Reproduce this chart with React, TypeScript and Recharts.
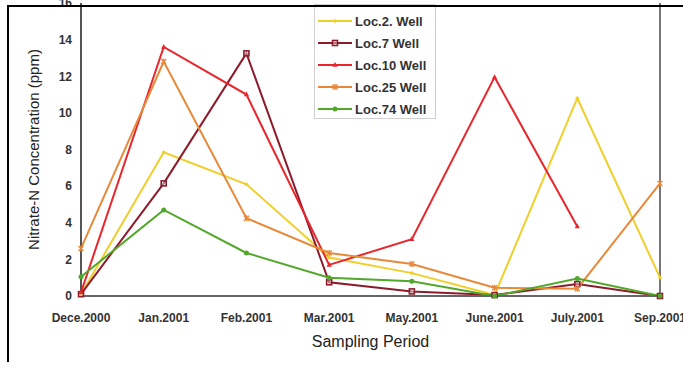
import { LineChart, Line, XAxis, YAxis, ReferenceLine } from "recharts";

const MONTHS = ["Dece.2000", "Jan.2001", "Feb.2001", "Mar.2001", "May.2001", "June.2001", "July.2001", "Sep.2001"];
const LOC2 = [0.1, 7.85, 6.1, 2.1, 1.25, 0.05, 10.8, 1.0];
const LOC7 = [0.1, 6.15, 13.25, 0.75, 0.25, 0.05, 0.65, 0];
const LOC10 = [0.2, 13.6, 11.0, 1.7, 3.1, 11.95, 3.8, null];
const LOC25 = [2.6, 12.8, 4.25, 2.35, 1.75, 0.45, 0.4, 6.15];
const LOC74 = [1.05, 4.7, 2.35, 1.0, 0.8, 0, 0.95, 0];
const Y_TICKS = [0, 2, 4, 6, 8, 10, 12, 14, 16];

const SERIES = [
  { key: "loc2", name: "Loc.2. Well", color: "#f0cf2a", marker: "plus" },
  { key: "loc7", name: "Loc.7 Well", color: "#8c1c2c", marker: "square" },
  { key: "loc10", name: "Loc.10 Well", color: "#e8262c", marker: "tri" },
  { key: "loc25", name: "Loc.25 Well", color: "#e8893a", marker: "star" },
  { key: "loc74", name: "Loc.74 Well", color: "#52a82a", marker: "circle" },
];

const data = MONTHS.map((m, i) => ({
  month: m,
  loc2: LOC2[i],
  loc7: LOC7[i],
  loc10: LOC10[i],
  loc25: LOC25[i],
  loc74: LOC74[i],
}));

const FONT = "Liberation Sans, Arial, sans-serif";

function Marker({ cx, cy, kind, color }: { cx: number; cy: number; kind: string; color: string }) {
  if (cx == null || cy == null || isNaN(cx) || isNaN(cy)) return null;
  if (kind === "square")
    return <rect x={cx - 2.5} y={cy - 2.5} width={5} height={5} fill="#fff" fillOpacity={0.4} stroke={color} strokeWidth={1.6} />;
  if (kind === "tri")
    return <polygon points={`${cx},${cy - 3} ${cx + 2.6},${cy + 1.8} ${cx - 2.6},${cy + 1.8}`} fill={color} />;
  if (kind === "star")
    return (
      <g stroke={color} strokeWidth={1.4}>
        <line x1={cx - 2.5} y1={cy - 2.5} x2={cx + 2.5} y2={cy + 2.5} />
        <line x1={cx - 2.5} y1={cy + 2.5} x2={cx + 2.5} y2={cy - 2.5} />
        <line x1={cx} y1={cy - 3} x2={cx} y2={cy + 3} />
      </g>
    );
  if (kind === "plus")
    return <circle cx={cx} cy={cy} r={1.8} fill={color} />;
  return <circle cx={cx} cy={cy} r={2.5} fill={color} />;
}

function LegendBox() {
  return (
    <div
      style={{
        position: "absolute",
        left: 314,
        top: 4,
        width: 122,
        height: 115,
        border: "1px solid #cfcfcf",
        background: "#fff",
        padding: "5px 0 0 3px",
        boxSizing: "border-box",
        fontFamily: FONT,
        fontWeight: "bold",
        fontSize: 13,
        color: "#333",
      }}
    >
      {SERIES.map((s) => (
        <div key={s.key} style={{ display: "flex", alignItems: "center", height: 22 }}>
          <svg width={36} height={10} style={{ marginRight: 1 }}>
            <line x1={0} y1={5} x2={34} y2={5} stroke={s.color} strokeWidth={2} />
            <Marker cx={17} cy={5} kind={s.marker} color={s.color} />
          </svg>
          <span>{s.name}</span>
        </div>
      ))}
    </div>
  );
}

export default function App() {
  return (
    <div style={{ position: "fixed", left: 0, top: 0, width: 683, height: 366, background: "#fff", overflow: "hidden" }}>
      <LineChart
        width={683}
        height={366}
        data={data}
        margin={{ top: 3, right: 23, bottom: 0, left: 8 }}
      >
        <XAxis
          dataKey="month"
          scale="point"
          padding={{ left: 0, right: 0 }}
          tickLine={false}
          axisLine={{ stroke: "#666", strokeWidth: 2 }}
          tickMargin={11}
          height={70}
          tick={{ fontSize: 12, fontWeight: "bold", fill: "#333", fontFamily: FONT }}
          interval={0}
          label={{
            value: "Sampling Period",
            position: "insideBottom",
            offset: 19,
            fontSize: 16,
            fill: "#222",
            fontFamily: FONT,
          }}
        />
        <YAxis
          type="number"
          domain={[0, 16]}
          ticks={Y_TICKS}
          interval={0}
          width={73}
          tickLine={false}
          tickSize={6}
          tickMargin={3}
          axisLine={{ stroke: "#555", strokeWidth: 2 }}
          tick={{ fontSize: 12, fontWeight: "bold", fill: "#333", fontFamily: FONT }}
          label={{
            value: "Nitrate-N Concentration (ppm)",
            angle: -90,
            position: "insideLeft",
            offset: 26,
            dy: 0,
            fontSize: 15,
            fill: "#222",
            fontFamily: FONT,
            style: { textAnchor: "middle" },
          }}
        />
        <ReferenceLine x="Sep.2001" stroke="#777" strokeWidth={2} />
        {SERIES.map((s) => (
          <Line
            key={s.key}
            type="linear"
            dataKey={s.key}
            name={s.name}
            stroke={s.color}
            strokeWidth={2}
            isAnimationActive={false}
            connectNulls={false}
            dot={(p: any) => <Marker key={`${s.key}-${p.index}`} cx={p.cx} cy={p.cy} kind={s.marker} color={s.color} />}
            activeDot={false}
          />
        ))}
      </LineChart>
      <LegendBox />
      <div style={{ position: "absolute", left: 7, top: 5, width: 683, height: 2, background: "#000" }} />
      <div style={{ position: "absolute", left: 7, top: 5, width: 2, height: 357, background: "#000" }} />
    </div>
  );
}
